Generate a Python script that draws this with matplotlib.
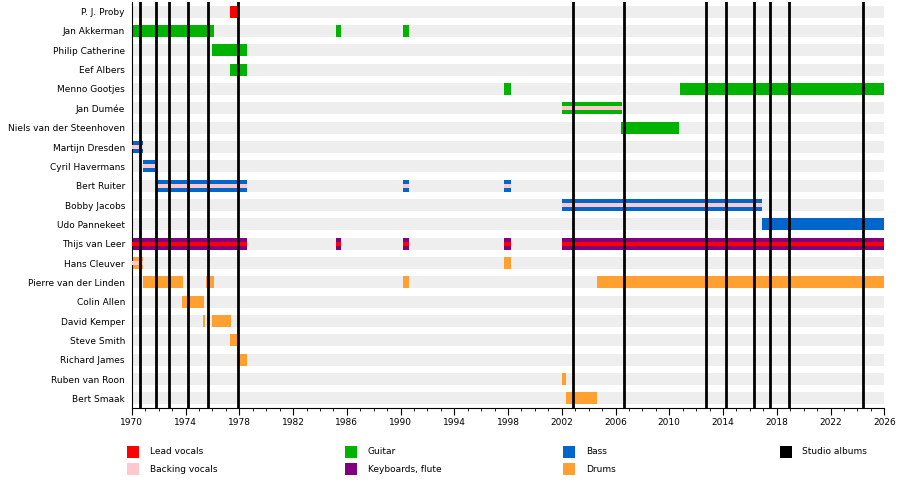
import matplotlib.pyplot as plt
from matplotlib.patches import Rectangle

members = ["P. J. Proby", "Jan Akkerman", "Philip Catherine", "Eef Albers", "Menno Gootjes",
           "Jan Dumée", "Niels van der Steenhoven", "Martijn Dresden", "Cyril Havermans",
           "Bert Ruiter", "Bobby Jacobs", "Udo Pannekeet", "Thijs van Leer", "Hans Cleuver",
           "Pierre van der Linden", "Colin Allen", "David Kemper", "Steve Smith",
           "Richard James", "Ruben van Roon", "Bert Smaak"]

# (member, start, end, main role, stripe role or None)
spells = [
    ("P. J. Proby", 1977.3, 1977.8, "lead", None),
    ("Jan Akkerman", 1970.0, 1976.1, "guitar", None),
    ("Jan Akkerman", 1985.2, 1985.6, "guitar", None),
    ("Jan Akkerman", 1990.2, 1990.6, "guitar", None),
    ("Philip Catherine", 1976.0, 1978.6, "guitar", None),
    ("Eef Albers", 1977.3, 1978.6, "guitar", None),
    ("Menno Gootjes", 1997.7, 1998.2, "guitar", None),
    ("Menno Gootjes", 2010.8, 2026.0, "guitar", None),
    ("Jan Dumée", 2002.0, 2006.5, "guitar", "backing"),
    ("Niels van der Steenhoven", 2006.4, 2010.7, "guitar", None),
    ("Martijn Dresden", 1970.0, 1970.8, "bass", "backing"),
    ("Cyril Havermans", 1970.8, 1971.8, "bass", "backing"),
    ("Bert Ruiter", 1971.8, 1978.6, "bass", "backing"),
    ("Bert Ruiter", 1990.2, 1990.6, "bass", "backing"),
    ("Bert Ruiter", 1997.7, 1998.2, "bass", "backing"),
    ("Bobby Jacobs", 2002.0, 2016.9, "bass", "backing"),
    ("Udo Pannekeet", 2016.9, 2026.0, "bass", None),
    ("Thijs van Leer", 1970.0, 1978.6, "keys", "lead"),
    ("Thijs van Leer", 1985.2, 1985.6, "keys", "lead"),
    ("Thijs van Leer", 1990.2, 1990.6, "keys", "lead"),
    ("Thijs van Leer", 1997.7, 1998.2, "keys", "lead"),
    ("Thijs van Leer", 2002.0, 2026.0, "keys", "lead"),
    ("Hans Cleuver", 1970.0, 1970.8, "drums", "backing"),
    ("Hans Cleuver", 1997.7, 1998.2, "drums", None),
    ("Pierre van der Linden", 1970.8, 1973.8, "drums", None),
    ("Pierre van der Linden", 1975.5, 1976.1, "drums", None),
    ("Pierre van der Linden", 1990.2, 1990.6, "drums", None),
    ("Pierre van der Linden", 2004.6, 2026.0, "drums", None),
    ("Colin Allen", 1973.7, 1975.4, "drums", None),
    ("David Kemper", 1975.3, 1975.45, "drums", None),
    ("David Kemper", 1976.0, 1977.4, "drums", None),
    ("Steve Smith", 1977.3, 1977.8, "drums", None),
    ("Richard James", 1977.8, 1978.6, "drums", None),
    ("Ruben van Roon", 2002.0, 2002.3, "drums", None),
    ("Bert Smaak", 2002.3, 2004.6, "drums", None),
]

albums = [1970.6, 1971.8, 1972.8, 1974.2, 1975.7, 1977.9, 2002.8, 2006.6,
          2012.7, 2014.2, 2016.3, 2017.5, 2018.9, 2024.4]

colors = {"lead": "#ff0000", "backing": "#ffc8cc", "guitar": "#00b300",
          "keys": "#800080", "bass": "#0066cc", "drums": "#ffa030"}

x0, x1 = 1970, 2026

fig = plt.figure(figsize=(9, 4.83), dpi=100)
ax = fig.add_axes([0.1465, 0.155, 0.836, 0.841])
n = len(members)
bh = 0.62
for i, m in enumerate(members):
    ax.add_patch(Rectangle((x0, i - bh / 2), x1 - x0, bh, color="#eeeeee", lw=0, zorder=0))

for m, s, e, role, stripe in spells:
    i = members.index(m)
    ax.add_patch(Rectangle((s, i - bh / 2), e - s, bh, color=colors[role], lw=0, zorder=2))
    if stripe:
        sh = 0.2 if stripe == "lead" else 0.22
        ax.add_patch(Rectangle((s, i - sh / 2), e - s, sh, color=colors[stripe], lw=0, zorder=3))

for a in albums:
    ax.axvline(a, color="black", lw=2, zorder=4)

ax.set_xlim(x0, x1)
ax.set_ylim(n - 0.5, -0.5)
ax.set_yticks(range(n))
ax.set_yticklabels(members, fontsize=6.5)
ax.tick_params(axis="y", length=0, pad=5)
ax.set_xticks(range(1970, 2027, 4))
ax.set_xticks(range(1970, 2027), minor=True)
ax.tick_params(axis="x", labelsize=6.5, length=5, pad=2)
ax.tick_params(axis="x", which="minor", length=2.5)
for side in ["top", "right"]:
    ax.spines[side].set_visible(False)

legend = [("Lead vocals", "lead", 127, 452), ("Backing vocals", "backing", 127, 469),
          ("Guitar", "guitar", 345, 452), ("Keyboards, flute", "keys", 345, 469),
          ("Bass", "bass", 563, 452), ("Drums", "drums", 563, 469)]
for label, role, px, py in legend:
    fig.add_artist(Rectangle((px / 900, 1 - (py + 6) / 483), 12 / 900, 12 / 483,
                             color=colors[role], lw=0, transform=fig.transFigure))
    fig.text((px + 23) / 900, 1 - py / 483, label, fontsize=6.5, va="center")
fig.add_artist(Rectangle((780 / 900, 1 - 458 / 483), 12 / 900, 12 / 483,
                         color="black", lw=0, transform=fig.transFigure))
fig.text(802 / 900, 1 - 452 / 483, "Studio albums", fontsize=6.5, va="center")

fig.savefig("out.png")
